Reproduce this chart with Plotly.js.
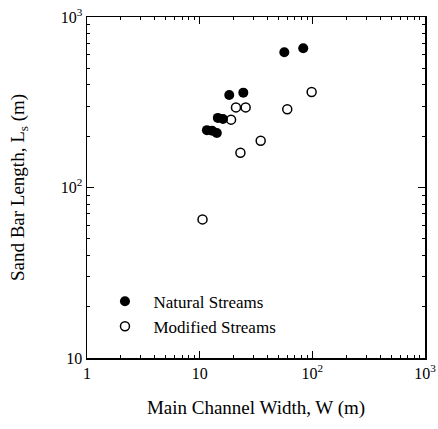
<!DOCTYPE html>
<html>
<head>
<meta charset="utf-8">
<script src="https://cdn.plot.ly/plotly-3.0.1.min.js"></script>
<style>html,body{margin:0;padding:0;background:#fff;}#chart{width:438px;height:429px;}</style>
</head>
<body>
<div id="chart"></div>
<script>
// Natural streams (filled)
var naturalW = [56.4, 83, 18.3, 24.4, 14.5, 16.1, 11.6, 12.9, 14.2];
var naturalL = [621, 655, 349, 360, 256, 252, 217, 215, 209];
// Modified streams (open)
var modifiedW = [21.0, 25.6, 19.0, 34.8, 23.0, 98.6, 59.9, 10.6];
var modifiedL = [295, 295, 250, 188, 160, 363, 288, 65];

var xTickVals = [1, 10, 100, 1000];
var xTickText = ['1', '10', '10<sup>2</sup>', '10<sup>3</sup>'];
var yTickVals = [10, 100, 1000];
var yTickText = ['10', '10<sup>2</sup>', '10<sup>3</sup>'];

var font = 'Liberation Serif, Times New Roman, serif';

var traces = [
  {x: naturalW, y: naturalL, type: 'scatter', mode: 'markers', name: 'Natural Streams',
   marker: {symbol: 'circle', size: 10, color: '#000', line: {width: 0}}},
  {x: modifiedW, y: modifiedL, type: 'scatter', mode: 'markers', name: 'Modified Streams',
   marker: {symbol: 'circle-open', size: 9, color: '#000', line: {width: 1.5, color: '#000'}}}
];

var axisCommon = {
  type: 'log', showgrid: false, zeroline: false, showline: true, linecolor: '#000', linewidth: 1.5,
  mirror: 'allticks', ticks: 'inside', ticklen: 7, tickwidth: 1, tickcolor: '#000',
  tickfont: {family: font, size: 16, color: '#000'},
  minor: {ticks: 'inside', ticklen: 3, tickwidth: 1, tickcolor: '#000', dtick: 'D1', showgrid: false}
};

var layout = {
  width: 438, height: 429,
  margin: {l: 87, r: 13, t: 17, b: 71},
  paper_bgcolor: '#fff', plot_bgcolor: '#fff',
  showlegend: true,
  legend: {x: 0.028, y: 0.218, xanchor: 'left', yanchor: 'top', bgcolor: 'rgba(0,0,0,0)',
           font: {family: font, size: 17, color: '#000'}, tracegroupgap: 0, itemsizing: 'trace', itemwidth: 47},
  xaxis: Object.assign({}, axisCommon, {
    range: [0, 3], tickmode: 'array', tickvals: xTickVals, ticktext: xTickText,
    title: {text: 'Main Channel Width, W (m)', font: {family: font, size: 19, color: '#000'}, standoff: 20}
  }),
  yaxis: Object.assign({}, axisCommon, {
    range: [1, 3], tickmode: 'array', tickvals: yTickVals, ticktext: yTickText,
    title: {text: 'Sand Bar Length, L<sub>s</sub> (m)', font: {family: font, size: 19, color: '#000'}, standoff: 31}
  })
};

Plotly.newPlot('chart', traces, layout, {displayModeBar: false, staticPlot: true});
</script>
</body>
</html>
